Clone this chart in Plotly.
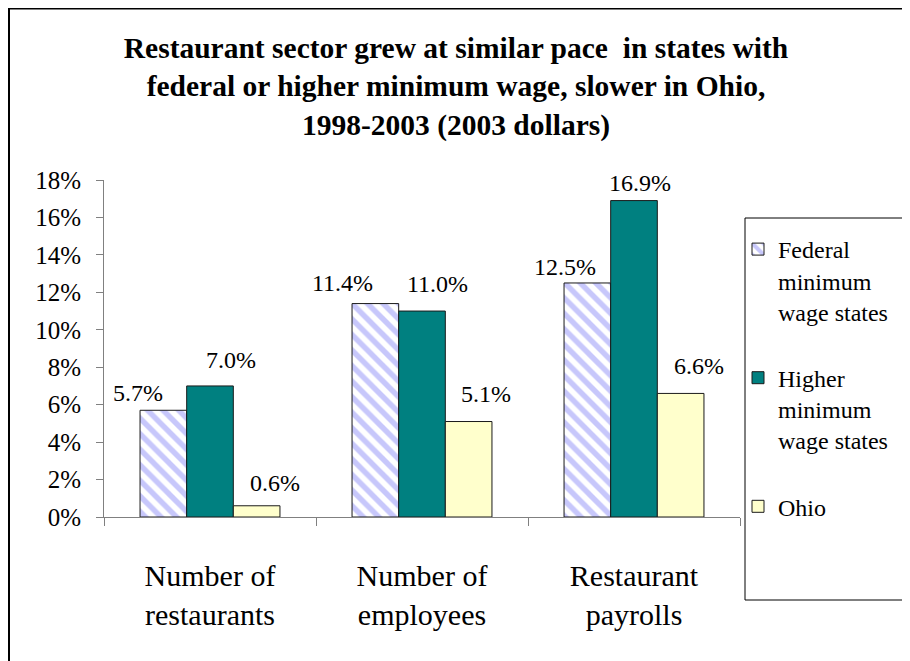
import plotly.graph_objects as go

categories = ["Number of<br>restaurants", "Number of<br>employees", "Restaurant<br>payrolls"]
series_names = ["Federal<br>minimum<br>wage states", "Higher<br>minimum<br>wage states", "Ohio"]
federal = [5.7, 11.4, 12.5]
higher = [7.0, 11.0, 16.9]
ohio = [0.6, 5.1, 6.6]
y_ticks = [0, 2, 4, 6, 8, 10, 12, 14, 16, 18]
y_tick_text = [f"{v}%" for v in y_ticks]

# label offsets (pixels) relative to each bar's top-centre
label_dx = [[-25, -33, -22], [21, 15, 6], [18, 17, 18]]
label_dy = [[2, 6, 1], [11, 12, 3], [8, 13, 12]]

FONT = "Liberation Serif"
OFF = 8  # page body margin
W, H = 902, 661
# plot area in page pixels: x 104..740, y 180..517
L, R = 104 - OFF, W - (740 - OFF)
T, B = 180 - OFF, H - (517 - OFF)
PW, PH = W - L - R, H - T - B


def px_x(px):
    return (px - OFF - L) / PW


def px_y(py):
    return (H - B - (py - OFF)) / PH


fig = go.Figure()
styles = [
    dict(color="white", pattern=dict(shape="\\", fgcolor="#9090F8", bgcolor="white", size=11, solidity=0.5)),
    dict(color="#008080"),
    dict(color="#FFFFCC"),
]
all_vals = [federal, higher, ohio]
for i, (name, vals) in enumerate(zip(series_names, all_vals)):
    fig.add_trace(go.Bar(
        x=categories, y=vals, name=name, legendgroup=str(i),
        marker=dict(**styles[i], line=dict(color="#1a1a1a", width=1)),
        hoverinfo="skip",
    ))

bar_w_px = PW / 3 * (1 - 0.34) / 3
for i, vals in enumerate(all_vals):
    for j, v in enumerate(vals):
        fig.add_annotation(
            x=categories[j], y=v, xref="x", yref="y",
            text=f"{v:.1f}%", showarrow=False,
            xanchor="center", yanchor="bottom",
            xshift=(i - 1) * bar_w_px + label_dx[i][j],
            yshift=label_dy[i][j],
            font=dict(family=FONT, size=24, color="black"),
        )

# outer frame (right and bottom sides fall outside the page)
fig.add_shape(type="rect", xref="paper", yref="paper",
              x0=px_x(9), x1=px_x(930), y0=px_y(700), y1=px_y(8.5),
              line=dict(color="black", width=2), fillcolor="rgba(0,0,0,0)", layer="below")
# legend frame
fig.add_shape(type="rect", xref="paper", yref="paper",
              x0=px_x(745), x1=px_x(903), y0=px_y(600), y1=px_y(218),
              line=dict(color="black", width=1), fillcolor="white", layer="below")

fig.update_layout(
    width=W, height=H,
    margin=dict(l=L, r=R, t=T, b=B, autoexpand=False),
    paper_bgcolor="white", plot_bgcolor="white",
    barmode="group", bargap=0.34, bargroupgap=0,
    font=dict(family=FONT, color="black"),
    title=dict(
        text="<b>Restaurant sector grew at similar pace  in states with<br>federal or higher minimum wage, slower in Ohio,<br>1998-2003 (2003 dollars)</b>",
        x=(456 - OFF) / W, xanchor="center", xref="container",
        y=1 - 50 / H, yanchor="top", yref="container",
        font=dict(family=FONT, size=29.5, color="black"),
    ),
    xaxis=dict(
        showline=True, linecolor="#808080", linewidth=1,
        ticks="outside", tickson="boundaries", ticklen=8, tickcolor="#808080",
        tickfont=dict(family=FONT, size=30, color="black"),
        ticklabelstandoff=32,
        showgrid=False, zeroline=False,
    ),
    yaxis=dict(
        range=[0, 18], tickmode="array", tickvals=y_ticks, ticktext=y_tick_text,
        showline=True, linecolor="#808080", linewidth=1,
        ticks="outside", ticklen=7, tickcolor="#808080",
        tickfont=dict(family=FONT, size=25, color="black"),
        ticklabelstandoff=10,
        showgrid=False, zeroline=False,
    ),
    legend=dict(
        x=px_x(738), y=px_y(227), xanchor="left", yanchor="top",
        borderwidth=0, bgcolor="rgba(0,0,0,0)",
        font=dict(family=FONT, size=24, color="black"),
        valign="top", tracegroupgap=32, traceorder="grouped",
        itemwidth=30,
    ),
    showlegend=True,
)

fig.write_html("out.html")
